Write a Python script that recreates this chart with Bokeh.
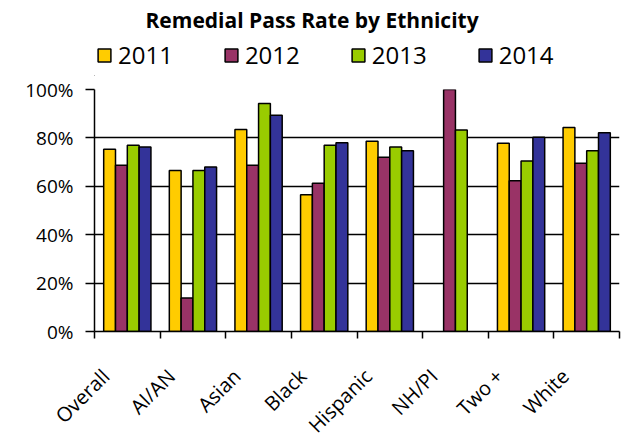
from bokeh.plotting import figure
from bokeh.layouts import column
from bokeh.models import FixedTicker, NumeralTickFormatter, Legend, LegendItem, Range1d, ColumnDataSource
from bokeh.embed import file_html
from bokeh.resources import INLINE

categories = ["Overall", "AI/AN", "Asian", "Black", "Hispanic", "NH/PI", "Two +", "White"]
years = ["2011", "2012", "2013", "2014"]
rate_2011 = [75.3, 66.5, 83.5, 56.5, 78.6, None, 77.8, 84.3]
rate_2012 = [68.7, 13.8, 68.7, 61.3, 72.0, 100.0, 62.3, 69.5]
rate_2013 = [77.0, 66.5, 94.2, 77.0, 76.2, 83.3, 70.5, 74.7]
rate_2014 = [76.2, 68.0, 89.4, 78.0, 74.7, None, 80.3, 82.1]
colors = ["#FFCC00", "#993366", "#99CC00", "#333399"]
series = [rate_2011, rate_2012, rate_2013, rate_2014]

FONT = "Open Sans"

# ---- header: title + legend ----
header = figure(width=622, height=76, x_range=Range1d(0, 1), y_range=Range1d(0, 1),
                output_backend="svg", toolbar_location=None,
                min_border_left=0, min_border_right=0, min_border_top=0, min_border_bottom=0,
                title="Remedial Pass Rate by Ethnicity")
header.axis.visible = False
header.grid.visible = False
header.outline_line_color = None
header.title.text_font = FONT
header.title.text_font_size = "21px"
header.title.text_font_style = "bold"
header.title.text_color = "black"
header.title.align = "left"
header.title.offset = 51
header.title.standoff = 6

# ---- main chart ----
p = figure(frame_width=525, frame_height=242, x_range=Range1d(0, 8), y_range=Range1d(0, 1),
           output_backend="svg", toolbar_location=None,
           min_border_left=94, min_border_top=13, min_border_right=3, min_border_bottom=106)
p.outline_line_color = None

bar_w = 0.18
items = []
for k, (yr, vals, col) in enumerate(zip(years, series, colors)):
    xs, tops = [], []
    for i, v in enumerate(vals):
        if v is None:
            continue
        xs.append(i + 0.5 + (k - 1.5) * bar_w)
        tops.append(v / 100.0)
    src = ColumnDataSource(dict(x=xs, top=tops))
    p.vbar(x="x", top="top", width=bar_w, bottom=0, source=src,
           fill_color=col, line_color="black", line_width=1.5)
    # legend key (drawn outside the header's visible range)
    key = header.vbar(x=[-10], top=[-10], width=0.1, bottom=-11, fill_color=col,
                      line_color="black", line_width=1.5)
    items.append(LegendItem(label=yr, renderers=[key]))

legend = Legend(items=items, orientation="horizontal", location=(2, 5),
                label_text_font=FONT, label_text_font_size="24px", label_text_color="black",
                glyph_width=16, glyph_height=16, label_standoff=6,
                spacing=50, padding=0, margin=0,
                border_line_color=None, background_fill_alpha=0)
header.add_layout(legend, "center")

# y axis
yt = FixedTicker(ticks=[0, 0.2, 0.4, 0.6, 0.8, 1.0], minor_ticks=[])
p.yaxis.ticker = yt
p.yaxis.formatter = NumeralTickFormatter(format="0%")
p.yaxis.major_tick_out = 9
p.yaxis.major_tick_in = 0
p.yaxis.major_tick_line_width = 1.5
p.yaxis.axis_line_width = 1.5
p.yaxis.major_label_standoff = 12
p.yaxis.major_label_text_font = FONT
p.yaxis.major_label_text_font_size = "19px"
p.yaxis.major_label_text_color = "black"
p.ygrid.ticker = yt
p.ygrid.grid_line_color = "black"
p.ygrid.grid_line_width = 1.5
p.xgrid.visible = False

# x axis: labels under each group, ticks at group boundaries
label_shift = 0.33
xt = FixedTicker(ticks=[i + 0.5 - label_shift for i in range(len(categories))],
                 minor_ticks=list(range(len(categories) + 1)))
p.xaxis.ticker = xt
p.xaxis.major_label_overrides = {i + 0.5 - label_shift: c for i, c in enumerate(categories)}
p.xaxis.major_tick_out = 0
p.xaxis.major_tick_in = 0
p.xaxis.minor_tick_out = 7
p.xaxis.minor_tick_in = 0
p.xaxis.minor_tick_line_color = "black"
p.xaxis.minor_tick_line_width = 1.5
p.xaxis.axis_line_width = 1.5
p.xaxis.major_label_orientation = 0.785398
p.xaxis.major_label_text_font = FONT
p.xaxis.major_label_text_font_size = "20px"
p.xaxis.major_label_text_color = "black"
p.xaxis.major_label_standoff = 34

layout = column(header, p, spacing=0)
open("out.html", "w").write(file_html(layout, INLINE))
